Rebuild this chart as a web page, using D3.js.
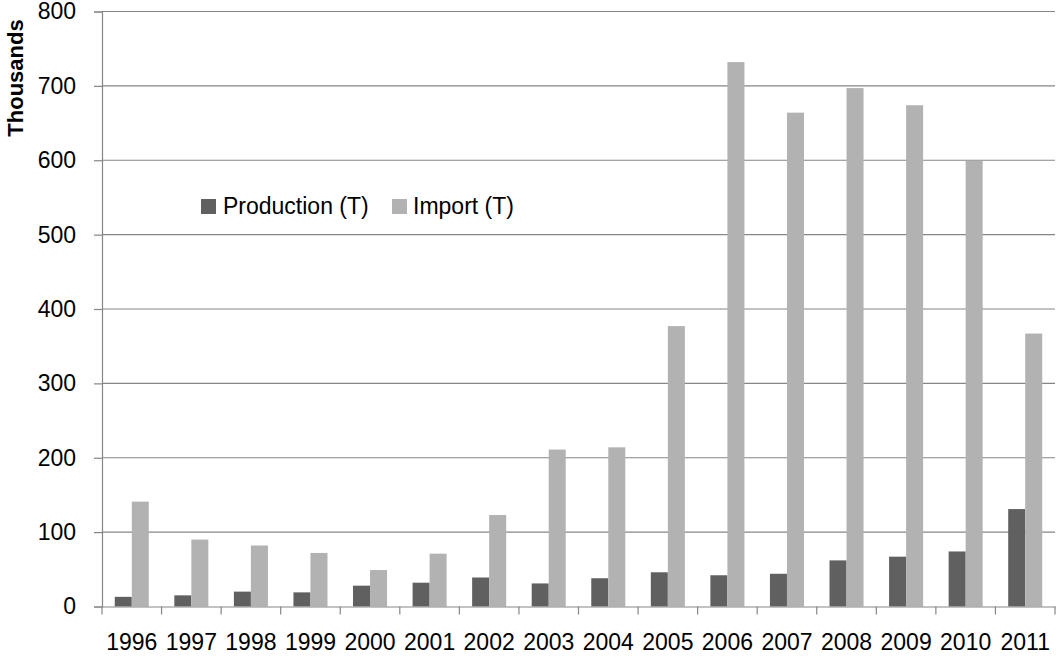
<!DOCTYPE html>
<html>
<head>
<meta charset="utf-8">
<script src="https://cdn.jsdelivr.net/npm/d3@7"></script>
<style>
  html, body { margin: 0; padding: 0; background: #fff; }
  svg { display: block; font-family: "Liberation Sans", Arial, sans-serif; }
</style>
</head>
<body>
<svg id="chart" width="1057" height="657"></svg>
<script>
// Annual production and import volumes, in thousands of tonnes
const years = ["1996","1997","1998","1999","2000","2001","2002","2003",
               "2004","2005","2006","2007","2008","2009","2010","2011"];
const production = [13, 15, 20, 19, 28, 32, 39, 31, 38, 46, 42, 44, 62, 67, 74, 131];
const imports    = [141, 90, 82, 72, 49, 71, 123, 211, 214, 377, 732, 664, 697, 674, 599, 367];
const seriesNames = ["Production (T)", "Import (T)"];
const seriesColors = ["#606060", "#b2b2b2"];
const yTicks = [0, 100, 200, 300, 400, 500, 600, 700, 800];

const svg = d3.select("#chart");
const plotLeft = 102, plotRight = 1055, plotTop = 11.5, plotBottom = 606.5;
const gridColor = "#868686";

const x = d3.scaleBand().domain(years).range([plotLeft, plotRight]).padding(0);
const xs = d3.scaleBand().domain(seriesNames).range([0, x.bandwidth()])
  .paddingInner(0).paddingOuter(0.75);
const y = d3.scaleLinear().domain([0, 800]).range([plotBottom, plotTop]);

// Horizontal gridlines
svg.append("g").selectAll("line").data(yTicks.filter(d => d > 0)).join("line")
  .attr("x1", plotLeft).attr("x2", plotRight)
  .attr("y1", d => y(d)).attr("y2", d => y(d))
  .attr("stroke", gridColor).attr("stroke-width", 1.2);

// Bars
const rows = years.map((yr, i) => ({ year: yr, values: [production[i], imports[i]] }));
const groups = svg.append("g").selectAll("g").data(rows).join("g")
  .attr("transform", d => `translate(${x(d.year)},0)`);
groups.selectAll("rect")
  .data(d => d.values.map((v, k) => ({ name: seriesNames[k], value: v, color: seriesColors[k] })))
  .join("rect")
  .attr("x", d => xs(d.name))
  .attr("width", xs.bandwidth())
  .attr("y", d => y(d.value))
  .attr("height", d => y(0) - y(d.value))
  .attr("fill", d => d.color);

// Y axis
const yAxis = svg.append("g").attr("transform", `translate(${plotLeft},0)`)
  .call(d3.axisLeft(y).tickValues(yTicks).tickSize(8).tickPadding(18));
yAxis.select(".domain").attr("stroke", gridColor).attr("stroke-width", 1.2);
yAxis.selectAll(".tick line").attr("stroke", gridColor).attr("stroke-width", 1.2);
yAxis.selectAll(".tick text")
  .attr("font-size", 23).attr("fill", "#000")
  .attr("font-family", "Liberation Sans, Arial, sans-serif");

// X axis with tick marks between categories
const xAxis = svg.append("g").attr("transform", `translate(0,${plotBottom})`)
  .call(d3.axisBottom(x).tickSize(0).tickPadding(27));
xAxis.select(".domain").attr("stroke", gridColor).attr("stroke-width", 1.2);
xAxis.selectAll(".tick text")
  .attr("font-size", 23).attr("fill", "#000")
  .attr("font-family", "Liberation Sans, Arial, sans-serif");
xAxis.append("g").selectAll("line")
  .data(years.map(d => x(d)).concat([plotRight]))
  .join("line")
  .attr("x1", d => d).attr("x2", d => d)
  .attr("y1", 0).attr("y2", 8)
  .attr("stroke", gridColor).attr("stroke-width", 1.2);

// Y axis title
svg.append("text")
  .attr("transform", "translate(23,78) rotate(-90)")
  .attr("text-anchor", "middle")
  .attr("font-size", 22).attr("font-weight", "bold")
  .text("Thousands");

// Legend
const legendItems = [
  { name: seriesNames[0], color: seriesColors[0], x: 201, tx: 223 },
  { name: seriesNames[1], color: seriesColors[1], x: 392, tx: 413 }
];
const lg = svg.append("g").selectAll("g").data(legendItems).join("g");
lg.append("rect")
  .attr("x", d => d.x).attr("y", 199).attr("width", 15).attr("height", 15)
  .attr("fill", d => d.color);
lg.append("text")
  .attr("x", d => d.tx).attr("y", 214)
  .attr("font-size", 23)
  .text(d => d.name);
</script>
</body>
</html>
